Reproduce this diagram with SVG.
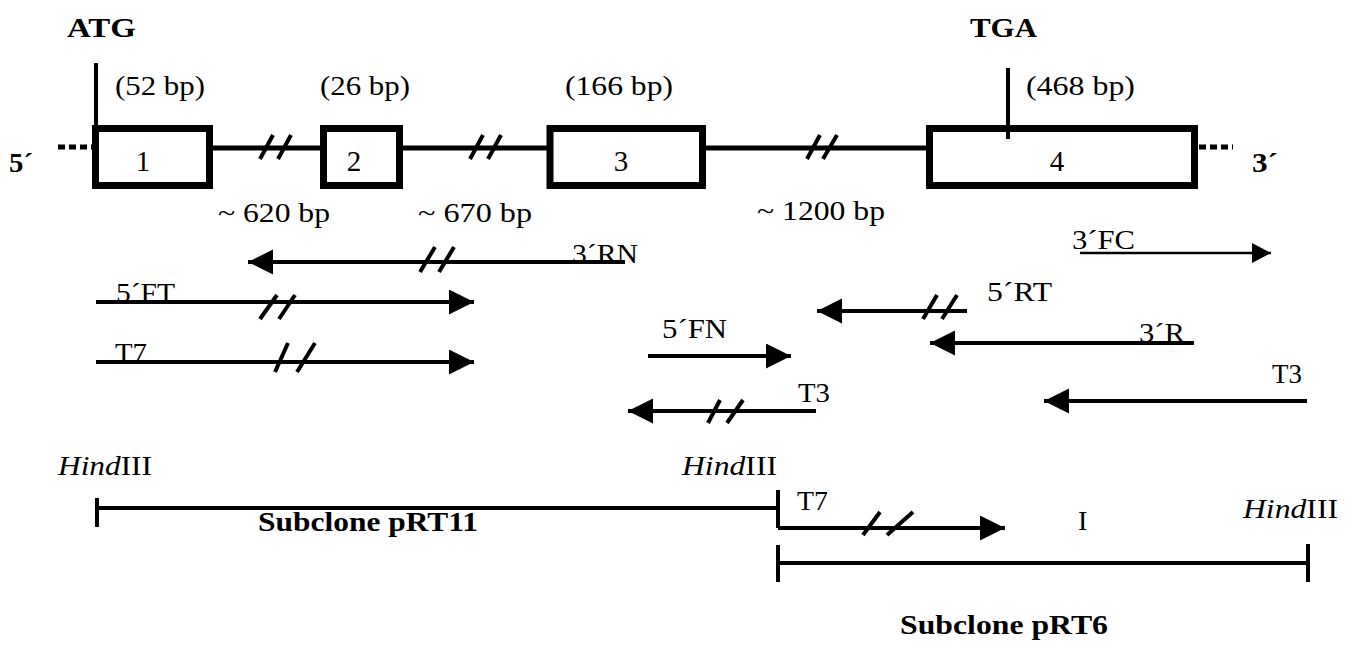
<svg xmlns="http://www.w3.org/2000/svg" width="1354" height="648" viewBox="0 0 1354 648">
<defs>
<style>
.t{font-family:"Liberation Serif","Times New Roman",serif;font-size:28px;fill:#000}
.b{font-weight:bold}
.n{font-size:29px}
.ln{stroke:#000;stroke-width:4;fill:none}
.box{stroke:#000;stroke-width:7;fill:#fff}
.sl{stroke:#000;stroke-width:4}
.dot{stroke:#000;stroke-width:5;stroke-dasharray:7,4;fill:none}
</style>
<marker id="ah" markerUnits="userSpaceOnUse" markerWidth="26" markerHeight="26" refX="25" refY="12.5" orient="auto"><path d="M0,0 L25,12.5 L0,25 Z" fill="#000"/></marker>
<marker id="ahs" markerUnits="userSpaceOnUse" markerWidth="20" markerHeight="22" refX="19" refY="10" orient="auto"><path d="M0,0 L19,10 L0,20 Z" fill="#000"/></marker>
</defs>
<rect width="1354" height="648" fill="#fff"/>

<g id="gene">
<line class="ln" x1="213" y1="148" x2="926" y2="148" style="stroke-width:5"/>
<line class="dot" x1="58" y1="147" x2="92" y2="147"/>
<line class="dot" x1="1199" y1="147" x2="1233" y2="147"/>
<g class="sl">
<line x1="260" y1="159" x2="273" y2="135"/><line x1="278" y1="159" x2="291" y2="135"/>
<line x1="470" y1="159" x2="483" y2="135"/><line x1="488" y1="159" x2="501" y2="135"/>
<line x1="807" y1="159" x2="820" y2="135"/><line x1="823" y1="159" x2="837" y2="135"/>
</g>
<text class="t b" x="9" y="172" textLength="24" lengthAdjust="spacingAndGlyphs">5´</text>
<text class="t b" x="1252" y="172" textLength="26" lengthAdjust="spacingAndGlyphs">3´</text>
<text class="t" x="218" y="222" textLength="112" lengthAdjust="spacingAndGlyphs">~ 620 bp</text>
<text class="t" x="418" y="222" textLength="114" lengthAdjust="spacingAndGlyphs">~ 670 bp</text>
<text class="t" x="757" y="220" textLength="128" lengthAdjust="spacingAndGlyphs">~ 1200 bp</text>
</g>

<g id="exon1">
<line class="ln" x1="96" y1="63" x2="96" y2="130"/>
<text class="t b" x="67" y="37" textLength="69" lengthAdjust="spacingAndGlyphs">ATG</text>
<rect class="box" x="95.5" y="128.5" width="114" height="57"/>
<text class="t n" x="143" y="171" text-anchor="middle">1</text>
<text class="t" x="115" y="95" textLength="90" lengthAdjust="spacingAndGlyphs">(52 bp)</text>
</g>
<g id="exon2">
<rect class="box" x="323.5" y="128.5" width="76" height="57"/>
<text class="t n" x="354" y="171" text-anchor="middle">2</text>
<text class="t" x="320" y="95" textLength="90" lengthAdjust="spacingAndGlyphs">(26 bp)</text>
</g>
<g id="exon3">
<rect class="box" x="550" y="128.5" width="152.5" height="57"/>
<text class="t n" x="621" y="171" text-anchor="middle">3</text>
<text class="t" x="565" y="95" textLength="108" lengthAdjust="spacingAndGlyphs">(166 bp)</text>
</g>
<g id="exon4">
<rect class="box" x="929.5" y="128.5" width="265" height="57"/>
<line class="ln" x1="1008" y1="68" x2="1008" y2="139"/>
<text class="t b" x="970" y="37" textLength="67" lengthAdjust="spacingAndGlyphs">TGA</text>
<text class="t n" x="1057" y="171" text-anchor="middle">4</text>
<text class="t" x="1026" y="95" textLength="109" lengthAdjust="spacingAndGlyphs">(468 bp)</text>
</g>

<g id="connectors">
<line class="ln" x1="625" y1="262" x2="248" y2="262" marker-end="url(#ah)"/>
<line class="ln" x1="96" y1="302" x2="474" y2="302" marker-end="url(#ah)"/>
<line class="ln" x1="96" y1="362" x2="474" y2="362" marker-end="url(#ah)"/>
<line class="ln" x1="648" y1="356" x2="791" y2="356" marker-end="url(#ah)"/>
<line class="ln" x1="816" y1="411" x2="628" y2="411" marker-end="url(#ah)"/>
<line class="ln" x1="967" y1="311" x2="817" y2="311" marker-end="url(#ah)"/>
<line class="ln" x1="1194" y1="343" x2="930" y2="343" marker-end="url(#ah)"/>
<line class="ln" x1="1080" y1="253" x2="1271" y2="253" marker-end="url(#ahs)" style="stroke-width:2.5"/>
<line class="ln" x1="1307" y1="401" x2="1044" y2="401" marker-end="url(#ah)"/>
<line class="ln" x1="778" y1="528" x2="1005" y2="528" marker-end="url(#ah)"/>
<g class="sl">
<line x1="420" y1="272" x2="435" y2="247"/><line x1="439" y1="272" x2="454" y2="247"/>
<line x1="260" y1="319" x2="277" y2="295"/><line x1="279" y1="319" x2="295" y2="295"/>
<line x1="275" y1="372" x2="288" y2="343"/><line x1="297" y1="372" x2="315" y2="343"/>
<line x1="708" y1="423" x2="720" y2="400"/><line x1="727" y1="423" x2="743" y2="400"/>
<line x1="923" y1="319" x2="937" y2="295"/><line x1="942" y1="319" x2="957" y2="295"/>
<line x1="863" y1="535" x2="880" y2="512"/><line x1="887" y1="535" x2="913" y2="512"/>
</g>
</g>

<g id="primers">
<text class="t" x="572" y="263" textLength="66" lengthAdjust="spacingAndGlyphs">3´RN</text>
<text class="t" x="116" y="302" textLength="59" lengthAdjust="spacingAndGlyphs">5´FT</text>
<text class="t" x="115" y="362" textLength="32" lengthAdjust="spacingAndGlyphs">T7</text>
<text class="t" x="662" y="338" textLength="65" lengthAdjust="spacingAndGlyphs">5´FN</text>
<text class="t" x="798" y="402" textLength="32" lengthAdjust="spacingAndGlyphs">T3</text>
<text class="t" x="987" y="301" textLength="65" lengthAdjust="spacingAndGlyphs">5´RT</text>
<text class="t" x="1139" y="342" textLength="46" lengthAdjust="spacingAndGlyphs">3´R</text>
<text class="t" x="1072" y="249" textLength="63" lengthAdjust="spacingAndGlyphs">3´FC</text>
<text class="t" x="1272" y="383" textLength="30" lengthAdjust="spacingAndGlyphs">T3</text>
</g>

<g id="pRT11">
<line class="ln" x1="97" y1="498" x2="97" y2="527"/>
<line class="ln" x1="97" y1="508" x2="778" y2="508"/>
<text class="t" x="58" y="475" textLength="94" lengthAdjust="spacingAndGlyphs"><tspan font-style="italic">Hind</tspan>III</text>
<text class="t" x="682" y="475" textLength="95" lengthAdjust="spacingAndGlyphs"><tspan font-style="italic">Hind</tspan>III</text>
<text class="t b" x="258" y="531" textLength="220" lengthAdjust="spacingAndGlyphs">Subclone pRT11</text>
</g>

<g id="pRT6">
<line class="ln" x1="778" y1="490" x2="778" y2="528"/>
<line class="ln" x1="778" y1="545" x2="778" y2="582"/>
<line class="ln" x1="1308" y1="544" x2="1308" y2="582"/>
<line class="ln" x1="778" y1="563" x2="1308" y2="563"/>
<text class="t" x="797" y="510" textLength="31" lengthAdjust="spacingAndGlyphs">T7</text>
<text class="t" x="1078" y="530">I</text>
<text class="t" x="1243" y="518" textLength="95" lengthAdjust="spacingAndGlyphs"><tspan font-style="italic">Hind</tspan>III</text>
<text class="t b" x="900" y="634" textLength="208" lengthAdjust="spacingAndGlyphs">Subclone pRT6</text>
</g>
</svg>
